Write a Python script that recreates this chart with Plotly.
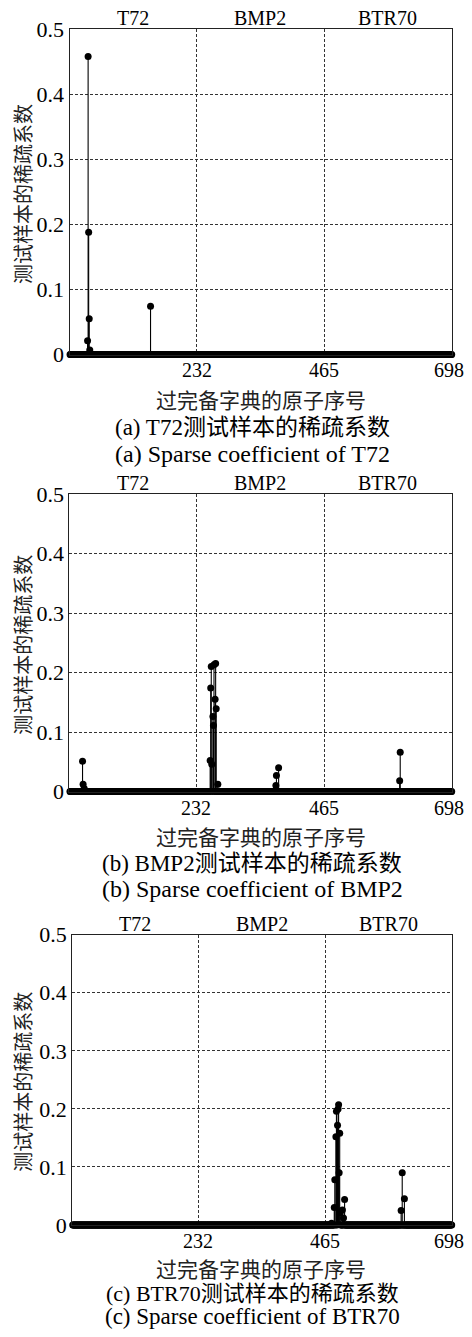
import numpy as np
import plotly.graph_objects as go

N_ATOMS = 698

# ---- data (nonzero sparse coefficients; all other atoms are 0) ----
idx_a = [33, 34, 35, 36, 37, 148]
val_a = [0.021, 0.458, 0.188, 0.055, 0.007, 0.074]

idx_b = [24, 25, 27, 257, 258, 259, 260, 262, 263, 264, 266, 267, 268, 271,
         377, 378, 382, 603, 604]
val_b = [0.051, 0.012, 0.005, 0.052, 0.174, 0.210, 0.046, 0.126, 0.111, 0.213,
         0.155, 0.215, 0.139, 0.012, 0.010, 0.027, 0.040, 0.018, 0.066]

idx_c = [477, 482, 483, 485, 486, 488, 489, 490, 491, 492, 493, 497, 499, 501,
         605, 607, 611]
val_c = [0.003, 0.030, 0.078, 0.152, 0.196, 0.172, 0.200, 0.207, 0.090, 0.158,
         0.021, 0.026, 0.012, 0.044, 0.025, 0.090, 0.045]

x_ticks = [232, 465, 698]
x_ticktext = ["232", "465", "698"]
y_ticks = [0, 0.1, 0.2, 0.3, 0.4, 0.5]
y_ticktext = ["0", "0.1", "0.2", "0.3", "0.4", "0.5"]
class_labels = ["T72", "BMP2", "BTR70"]
class_centers = [116, 348.5, 581.5]
y_title = "测试样本的稀疏系数"
x_title = "过完备字典的原子序号"
captions_cn = ["(a) T72测试样本的稀疏系数", "(b) BMP2测试样本的稀疏系数", "(c) BTR70测试样本的稀疏系数"]
captions_en = ["(a) Sparse coefficient of T72", "(b) Sparse coefficient of BMP2",
               "(c) Sparse coefficient of BTR70"]

# ---- page geometry ----
PAGE_W, PAGE_H = 472, 1337
OFFSET = 8  # default body margin of the html page
W, H = PAGE_W - 2 * OFFSET, PAGE_H - 2 * OFFSET

# (left, right, top, bottom) of each plot area, in screen pixels
panels_px = [(69.5, 451.7, 29.3, 354.5),
             (69.4, 451.7, 494.0, 791.5),
             (72.2, 451.7, 934.7, 1225.0)]
xtitle_y = [399, 836, 1268]
cap1_y = [427, 863, 1293]
cap2_y = [454, 889, 1316]
cap1_size = [23, 23, 22]
cap2_size = [24, 24, 23]

FONT = "Liberation Serif, 'Times New Roman', 'Noto Sans CJK SC', serif"
CJK = "'Noto Sans CJK SC', 'Liberation Serif', serif"


def px_x(x):
    return (x - OFFSET) / W


def px_y(y):
    return 1 - (y - OFFSET) / H


fig = go.Figure()
datasets = [(idx_a, val_a), (idx_b, val_b), (idx_c, val_c)]
annotations = []

for k, ((idx, val), (l, r, t, b)) in enumerate(zip(datasets, panels_px)):
    xa = "x" if k == 0 else f"x{k+1}"
    ya = "y" if k == 0 else f"y{k+1}"
    coef = np.zeros(N_ATOMS)
    for i, v in zip(idx, val):
        coef[i - 1] = v
    atoms = np.arange(1, N_ATOMS + 1)

    # stems
    sx, sy = [], []
    for i, v in zip(atoms, coef):
        if v != 0:
            sx += [i, i, None]
            sy += [0, v, None]
    fig.add_trace(go.Scatter(x=sx, y=sy, mode="lines", xaxis=xa, yaxis=ya,
                             line=dict(color="black", width=1.1),
                             showlegend=False, hoverinfo="skip", cliponaxis=False))
    # markers at every atom
    fig.add_trace(go.Scatter(x=atoms, y=coef, mode="markers", xaxis=xa, yaxis=ya,
                             marker=dict(color="black", size=7, line=dict(width=0)),
                             showlegend=False, cliponaxis=False))

    axkey_x = "xaxis" if k == 0 else f"xaxis{k+1}"
    axkey_y = "yaxis" if k == 0 else f"yaxis{k+1}"
    fig.update_layout({
        axkey_x: dict(domain=[px_x(l), px_x(r)], range=[0, N_ATOMS], anchor=ya,
                      tickmode="array", tickvals=x_ticks, showticklabels=False,
                      showgrid=True, gridcolor="#333", gridwidth=1, griddash="3px,2px",
                      showline=True, linecolor="#222", linewidth=1, mirror=True,
                      zeroline=False, ticks="", automargin=False),
        axkey_y: dict(domain=[px_y(b), px_y(t)], range=[0, 0.5], anchor=xa,
                      tickmode="array", tickvals=y_ticks, ticktext=y_ticktext,
                      showgrid=True, gridcolor="#333", gridwidth=1, griddash="3px,2px",
                      showline=True, linecolor="#222", linewidth=1, mirror=True,
                      zeroline=False, ticks="", automargin=False,
                      ticklabeloverflow="allow",
                      tickfont=dict(family=FONT, size=22, color="black")),
    })

    # x tick labels, placed on the axis scale (last one nudged to stay on the page)
    for v, txt in zip(x_ticks, x_ticktext):
        annotations.append(dict(text=txt, x=v, xref=xa, y=px_y(b + 16), yref="paper",
                                showarrow=False, xanchor="center", yanchor="middle",
                                xshift=-3 if v == x_ticks[-1] else 0,
                                font=dict(family=FONT, size=20, color="black")))

    # class labels above plot
    for lab, c in zip(class_labels, class_centers):
        annotations.append(dict(text=lab, x=c, xref=xa, y=px_y(t - 11), yref="paper",
                                showarrow=False, xanchor="center", yanchor="middle",
                                font=dict(family=FONT, size=20, color="black")))
    # y title
    annotations.append(dict(text=y_title, x=px_x(23), y=px_y((t + b) / 2 + 2),
                            xref="paper", yref="paper", textangle=-90,
                            showarrow=False, xanchor="center", yanchor="middle",
                            font=dict(family=CJK, size=20, color="#222")))
    # x title
    annotations.append(dict(text=x_title, x=px_x(261), y=px_y(xtitle_y[k]),
                            xref="paper", yref="paper", showarrow=False,
                            xanchor="center", yanchor="middle",
                            font=dict(family=CJK, size=21, color="#222")))
    # captions
    annotations.append(dict(text=captions_cn[k], x=px_x(252), y=px_y(cap1_y[k]),
                            xref="paper", yref="paper", showarrow=False,
                            xanchor="center", yanchor="middle",
                            font=dict(family=FONT, size=cap1_size[k], color="black")))
    annotations.append(dict(text=captions_en[k], x=px_x(252), y=px_y(cap2_y[k]),
                            xref="paper", yref="paper", showarrow=False,
                            xanchor="center", yanchor="middle",
                            font=dict(family=FONT, size=cap2_size[k], color="black")))

fig.update_layout(width=W, height=H,
                  margin=dict(l=0, r=0, t=0, b=0, pad=0, autoexpand=False),
                  paper_bgcolor="white", plot_bgcolor="white",
                  annotations=annotations, showlegend=False)

fig.write_html("out.html")
